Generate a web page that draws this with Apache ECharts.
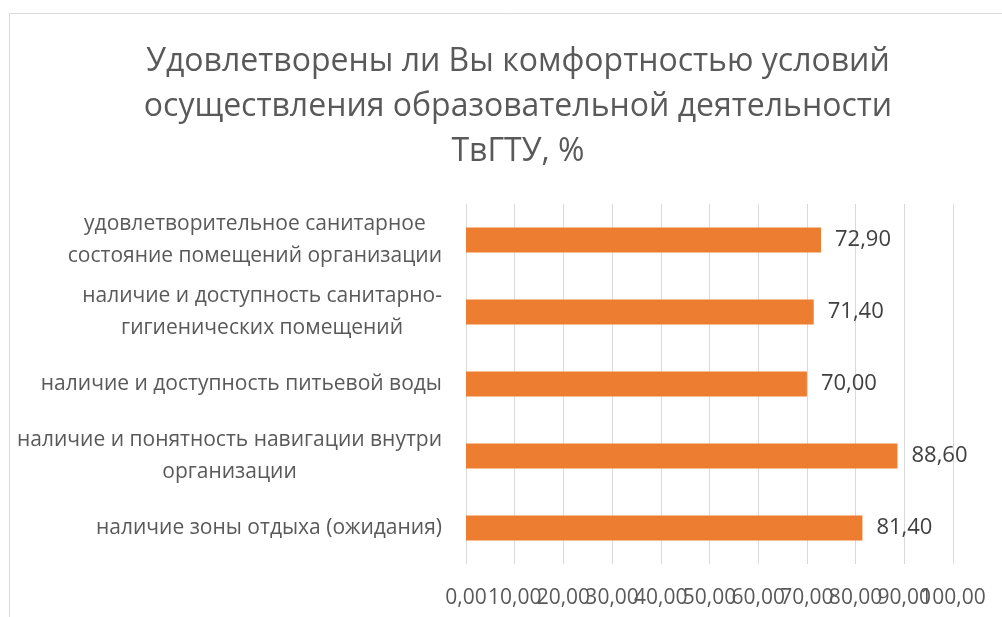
<!DOCTYPE html>
<html><head><meta charset="utf-8">
<script src="https://cdn.jsdelivr.net/npm/echarts@6/dist/echarts.min.js"></script>
<style>html,body{margin:0;padding:0;background:#fff}#c{width:1002px;height:617px}</style>
</head><body><div id="c"></div>
<script>
const titleText = "Удовлетворены ли Вы комфортностью условий\nосуществления образовательной деятельности\nТвГТУ, %";
const categories = [
  "удовлетворительное санитарное\nсостояние помещений организации",
  "наличие и доступность санитарно-\nгигиенических помещений",
  "наличие и доступность питьевой воды",
  "наличие и понятность навигации внутри\nорганизации",
  "наличие зоны отдыха (ожидания)"
];
const values = [72.9, 71.4, 70.0, 88.6, 81.4];
const xMin = 0, xMax = 100, xStep = 10;
const fmt = v => Number(v).toFixed(2).replace('.', ',');
const FONT = 'Open Sans';
const labelBase = {color:'#595959',fontFamily:FONT,fontSize:21,margin:24,hideOverlap:false,interval:0};
const chart = echarts.init(document.getElementById('c'), null, {renderer:'canvas'});
chart.setOption({
  animation:false,
  backgroundColor:'#fff',
  title:{text:titleText,left:513,textAlign:'center',top:34,textStyle:{fontFamily:FONT,fontSize:32,fontWeight:'normal',color:'#595959',lineHeight:45}},
  graphic:[{type:'rect',shape:{x:9.5,y:13.5,width:1100,height:700},style:{fill:null,stroke:'#d9d9d9',lineWidth:1},silent:true}],
  grid:{left:466,right:49,top:204,bottom:53,containLabel:false},
  xAxis:[
    {type:'value',min:xMin,max:xMax,interval:xStep,position:'bottom',
      axisLine:{show:false},axisTick:{show:false},
      splitLine:{lineStyle:{color:'#d9d9d9',width:1}},
      axisLabel:Object.assign({},labelBase,{formatter:v=>v===xMax?'':fmt(v),showMinLabel:true,showMaxLabel:false})},
    {type:'value',min:xMin,max:xMax,interval:xStep,position:'bottom',offset:0,
      axisLine:{show:false},axisTick:{show:false},splitLine:{show:false},
      axisLabel:Object.assign({},labelBase,{formatter:v=>v===xMax?fmt(v):'',showMinLabel:false,showMaxLabel:true})}
  ],
  yAxis:{type:'category',data:categories,inverse:true,
    axisLine:{show:false},axisTick:{show:false},
    axisLabel:{color:'#595959',fontFamily:FONT,fontSize:21,margin:24,lineHeight:32,interval:0,
      formatter:v=>v.split('\n').map(s=>'{c|'+s+'}').join('\n'),
      rich:{c:{align:'center',fontFamily:FONT,fontSize:21,color:'#595959',lineHeight:32}}}},
  series:[{type:'bar',data:values,barWidth:25,itemStyle:{color:'#ed7d31'},
    label:{show:true,position:'right',distance:14,formatter:p=>fmt(p.value),color:'#404040',fontFamily:FONT,fontSize:22}}]
});
</script></body></html>
